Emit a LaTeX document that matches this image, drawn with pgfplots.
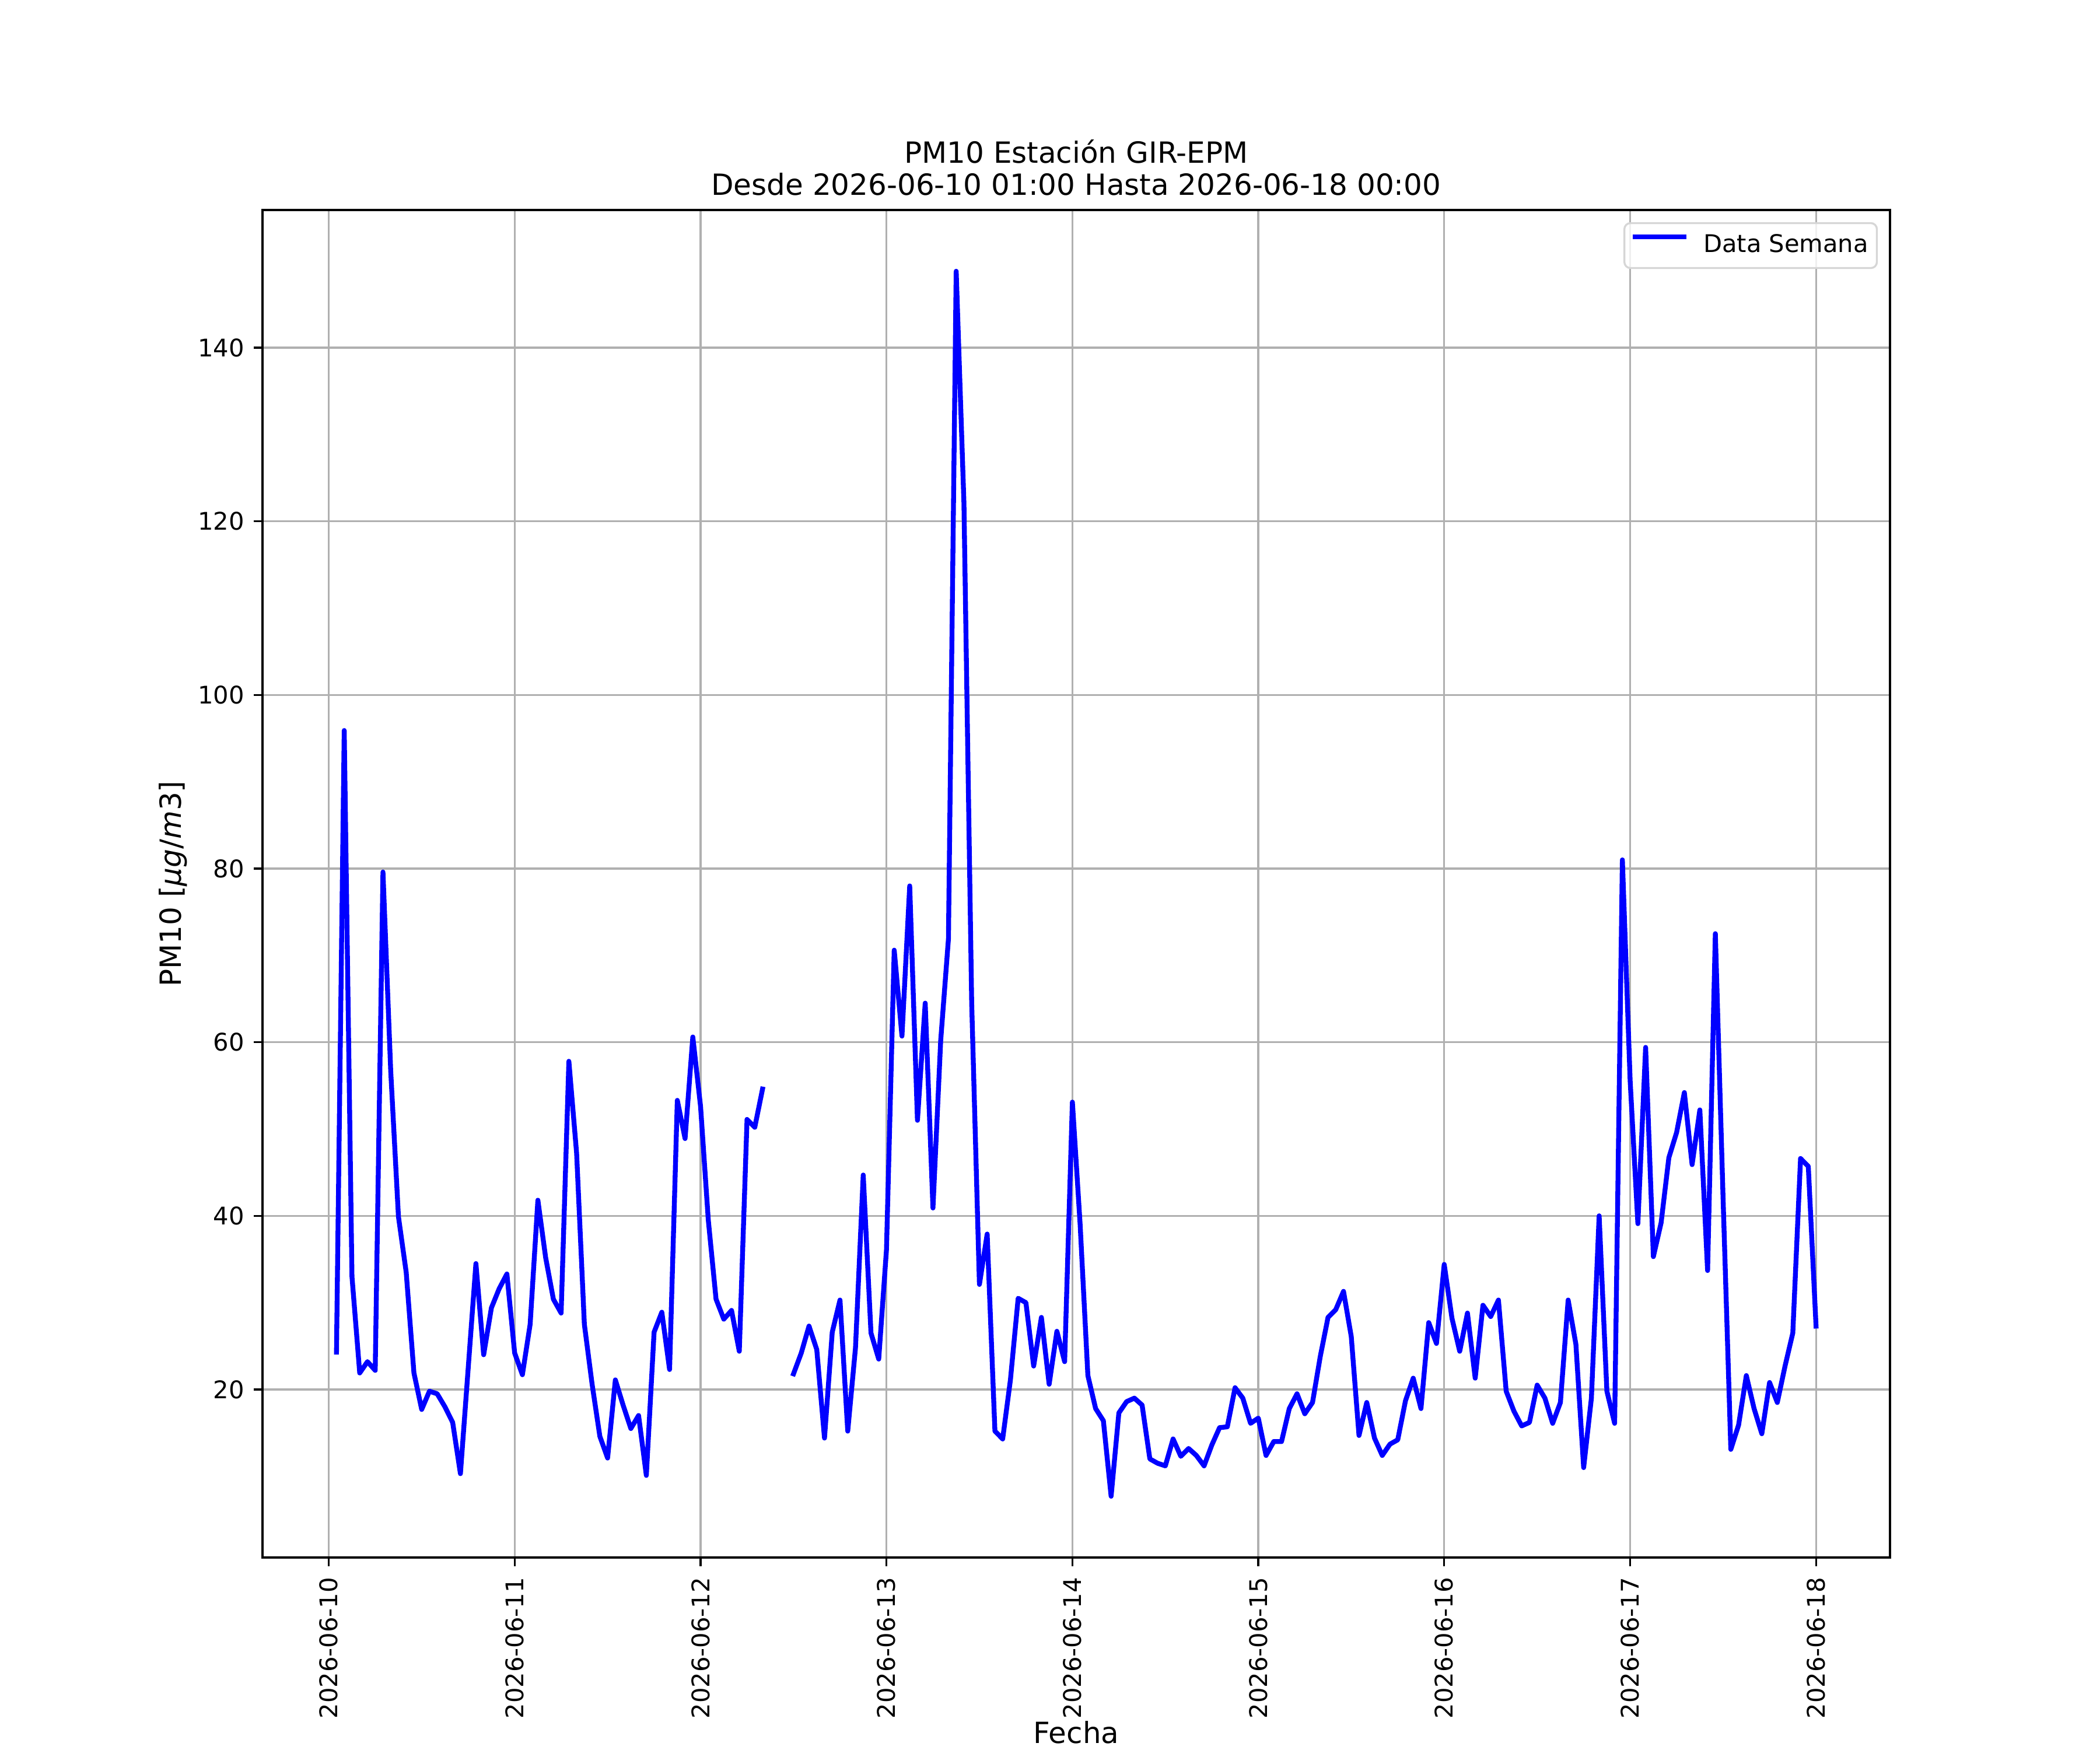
\documentclass[border=0pt]{standalone}
\usepackage{fontspec}
\setmainfont{DejaVu Sans}
\usepackage{pgfplots}
\pgfplotsset{compat=1.18}
\definecolor{gridgray}{HTML}{B0B0B0}
\definecolor{legedge}{HTML}{D6D6D6}
\begin{document}
\begin{tikzpicture}
\path[use as bounding box] (0,0) rectangle (12in,10in);
\begin{axis}[
  name=ax, at={(1.5in,1.1in)}, anchor=south west,
  scale only axis, width=9.3in, height=7.7in,
  xmin=-8.55, xmax=201.55, ymin=0.645, ymax=155.855,
  xtick={0,24,48,72,96,120,144,168,192},
  xticklabels={2026-06-10,2026-06-11,2026-06-12,2026-06-13,2026-06-14,2026-06-15,2026-06-16,2026-06-17,2026-06-18},
  ytick={20,40,60,80,100,120,140},
  grid=major, major grid style={gridgray, line width=0.8bp},
  tick align=outside, tick pos=left, major tick length=3.5bp,
  every tick/.style={black, line width=0.8bp},
  axis line style={line width=0.8bp},
  /pgf/number format/assume math mode=true,
  xticklabel style={rotate=90, anchor=east, inner sep=0pt, font=\fontsize{10bp}{12bp}\selectfont},
  yticklabel style={anchor=east, inner sep=0pt, font=\fontsize{10bp}{12bp}\selectfont},
  xticklabel shift=4.5bp, yticklabel shift=3.8bp,
  unbounded coords=jump,
  legend style={at={(1,1)}, anchor=north east, xshift=-5bp, yshift=-5bp,
    draw=legedge, line width=0.8bp, rounded corners=2.5bp, fill=white, fill opacity=0.8, text opacity=1,
    font=\fontsize{10bp}{12bp}\selectfont, inner xsep=3.5bp, inner ysep=4bp, column sep=7bp,
    nodes={inner sep=0pt, text height=8bp, text depth=2.5bp}},
  legend image code/.code={\draw[#1] (0bp,3.6bp) -- (20bp,3.6bp);},
]
\addplot[color=blue, line width=2bp, line join=round, line cap=rect] coordinates {
(1,24.3) (2,95.9) (3,33.0) (4,21.9) (5,23.2) (6,22.2) (7,79.6) (8,56.7) (9,39.9) (10,33.5)
(11,21.9) (12,17.7) (13,19.8) (14,19.5) (15,18.0) (16,16.2) (17,10.3) (18,22.4) (19,34.5) (20,24.0)
(21,29.4) (22,31.6) (23,33.3) (24,24.2) (25,21.7) (26,27.5) (27,41.8) (28,35.2) (29,30.4) (30,28.8)
(31,57.8) (32,47.2) (33,27.5) (34,20.6) (35,14.6) (36,12.1) (37,21.1) (38,18.2) (39,15.5) (40,17.0)
(41,10.1) (42,26.6) (43,28.9) (44,22.3) (45,53.3) (46,48.9) (47,60.6) (48,52.6) (49,39.5) (50,30.4)
(51,28.1) (52,29.1) (53,24.4) (54,51.1) (55,50.2) (56,54.6) (57,nan) (58,nan) (59,nan) (60,21.8)
(61,24.2) (62,27.3) (63,24.6) (64,14.4) (65,26.6) (66,30.3) (67,15.2) (68,24.8) (69,44.7) (70,26.5)
(71,23.5) (72,36.1) (73,70.6) (74,60.7) (75,78.0) (76,51.0) (77,64.5) (78,40.9) (79,60.2) (80,71.9)
(81,148.8) (82,122.1) (83,64.5) (84,32.1) (85,37.9) (86,15.2) (87,14.3) (88,21.1) (89,30.5) (90,30.0)
(91,22.7) (92,28.3) (93,20.6) (94,26.7) (95,23.2) (96,53.1) (97,39.0) (98,21.6) (99,17.8) (100,16.4)
(101,7.7) (102,17.3) (103,18.6) (104,19.0) (105,18.2) (106,12.0) (107,11.5) (108,11.2) (109,14.3) (110,12.3)
(111,13.2) (112,12.4) (113,11.2) (114,13.6) (115,15.6) (116,15.7) (117,20.2) (118,19.0) (119,16.1) (120,16.7)
(121,12.4) (122,14.0) (123,14.0) (124,17.8) (125,19.5) (126,17.2) (127,18.5) (128,23.8) (129,28.3) (130,29.2)
(131,31.3) (132,26.1) (133,14.7) (134,18.5) (135,14.4) (136,12.4) (137,13.7) (138,14.2) (139,18.7) (140,21.3)
(141,17.8) (142,27.7) (143,25.3) (144,34.4) (145,28.2) (146,24.4) (147,28.8) (148,21.3) (149,29.7) (150,28.4)
(151,30.3) (152,19.8) (153,17.5) (154,15.8) (155,16.2) (156,20.5) (157,19.0) (158,16.1) (159,18.5) (160,30.3)
(161,25.2) (162,11.0) (163,19.0) (164,40.0) (165,19.8) (166,16.1) (167,81.0) (168,55.6) (169,39.1) (170,59.4)
(171,35.3) (172,39.2) (173,46.7) (174,49.6) (175,54.2) (176,45.9) (177,52.2) (178,33.7) (179,72.5) (180,42.0)
(181,13.1) (182,15.9) (183,21.6) (184,17.8) (185,14.9) (186,20.8) (187,18.5) (188,22.7) (189,26.5) (190,46.6)
(191,45.7) (192,27.3)
};
\addlegendentry{Data Semana}
\end{axis}
\node[anchor=base, yshift=6bp, font=\fontsize{12bp}{14.4bp}\selectfont] at (ax.north) {Desde 2026-06-10 01:00 Hasta 2026-06-18 00:00};
\node[anchor=base, yshift=19.2bp, font=\fontsize{12bp}{14.4bp}\selectfont] at (ax.north) {PM10 Estación GIR-EPM};
\node[rotate=90, font=\fontsize{12bp}{14.4bp}\selectfont] at ([xshift=-36.7bp]ax.west) {PM10 [{\itshape μg}/{\itshape m}3]};
\node[anchor=base, font=\fontsize{12bp}{14.4bp}\selectfont] at ([yshift=-76.5bp]ax.south) {Fecha};
\end{tikzpicture}
\end{document}
